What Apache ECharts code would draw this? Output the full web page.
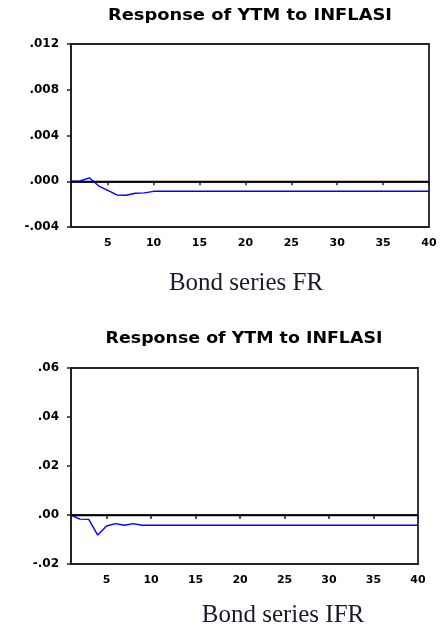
<!DOCTYPE html>
<html>
<head>
<meta charset="utf-8">
<script src="https://cdn.jsdelivr.net/npm/echarts@6/dist/echarts.min.js"></script>
<style>html,body{margin:0;padding:0;background:#fff}#c{width:440px;height:629px}</style>
</head>
<body>
<div id="c"></div>
<script>
const periods = [1,2,3,4,5,6,7,8,9,10,11,12,13,14,15,16,17,18,19,20,21,22,23,24,25,26,27,28,29,30,31,32,33,34,35,36,37,38,39,40];
const xTicks = [5,10,15,20,25,30,35,40];
const frValues = [0, 0.00002, 0.0003, -0.0004, -0.0008, -0.0012, -0.00122, -0.00105, -0.00102, -0.00088,
  -0.00088,-0.00088,-0.00088,-0.00088,-0.00088,-0.00088,-0.00088,-0.00088,-0.00088,-0.00088,
  -0.00088,-0.00088,-0.00088,-0.00088,-0.00088,-0.00088,-0.00088,-0.00088,-0.00088,-0.00088,
  -0.00088,-0.00088,-0.00088,-0.00088,-0.00088,-0.00088,-0.00088,-0.00088,-0.00088,-0.00088];
const ifrValues = [0, -0.0017, -0.0018, -0.0082, -0.0045, -0.0035, -0.0042, -0.0035, -0.0042, -0.0042,
  -0.0042,-0.0042,-0.0042,-0.0042,-0.0042,-0.0042,-0.0042,-0.0042,-0.0042,-0.0042,
  -0.0042,-0.0042,-0.0042,-0.0042,-0.0042,-0.0042,-0.0042,-0.0042,-0.0042,-0.0042,
  -0.0042,-0.0042,-0.0042,-0.0042,-0.0042,-0.0042,-0.0042,-0.0042,-0.0042,-0.0042];
const titleText = 'Response of YTM to INFLASI';
const subTitles = ['Bond series FR', 'Bond series IFR'];

const chart = echarts.init(document.getElementById('c'), null, {renderer: 'canvas'});
const fmt = d => v => v.toFixed(d).replace('0.', '.');
const xFont = {fontFamily: 'DejaVu Sans', fontWeight: 'bold', fontSize: 11, color: '#000'};
const yFont = {fontFamily: 'DejaVu Sans', fontWeight: 'bold', fontSize: 12, color: '#000'};
function xAxis(gi) {
  return {
    type: 'value', gridIndex: gi, min: 1, max: 40,
    axisLine: {lineStyle: {color: '#222', width: 1.8}},
    axisTick: {customValues: xTicks, length: 4, lineStyle: {color: '#222', width: 1.5}},
    axisLabel: Object.assign({customValues: xTicks, margin: 11}, xFont),
    splitLine: {show: false}
  };
}
function yAxis(gi, min, max, interval, d) {
  return {
    type: 'value', gridIndex: gi, min: min, max: max, interval: interval,
    axisLine: {show: true, lineStyle: {color: '#222', width: 1.8}},
    axisTick: {show: true, length: 4, lineStyle: {color: '#222', width: 1.5}},
    axisLabel: Object.assign({formatter: fmt(d), margin: 12}, yFont),
    splitLine: {show: false}
  };
}
function series(gi, vals) {
  return {
    type: 'line', xAxisIndex: gi, yAxisIndex: gi,
    data: periods.map((p, i) => [p, vals[i]]),
    showSymbol: false, symbol: 'none',
    lineStyle: {color: '#0000ff', width: 1.4},
    markLine: {silent: true, symbol: 'none', label: {show: false},
      lineStyle: {color: '#000', width: 1.3, type: 'solid'}, data: [{yAxis: 0}]},
    animation: false
  };
}
chart.setOption({
  animation: false,
  grid: [
    {left: 71, top: 44, width: 358, height: 183, show: true, borderColor: '#222', borderWidth: 1.8},
    {left: 71, top: 368, width: 347, height: 196, show: true, borderColor: '#222', borderWidth: 1.8}
  ],
  xAxis: [xAxis(0), xAxis(1)],
  yAxis: [yAxis(0, -0.004, 0.012, 0.004, 3), yAxis(1, -0.02, 0.06, 0.02, 2)],
  series: [series(0, frValues), series(1, ifrValues)],
  graphic: [
    {type: 'text', x: 250, y: 16, scaleX: 1.19, style: {text: titleText, align: 'center', verticalAlign: 'middle',
      font: 'bold 15px "DejaVu Sans"', fill: '#000'}},
    {type: 'text', x: 244, y: 339, scaleX: 1.16, style: {text: titleText, align: 'center', verticalAlign: 'middle',
      font: 'bold 15px "DejaVu Sans"', fill: '#000'}},
    {type: 'text', x: 246, y: 283, style: {text: subTitles[0], align: 'center', verticalAlign: 'middle',
      font: '25px "Liberation Serif"', fill: '#1a1a2a'}},
    {type: 'text', x: 283, y: 615, style: {text: subTitles[1], align: 'center', verticalAlign: 'middle',
      font: '25px "Liberation Serif"', fill: '#1a1a2a'}}
  ]
});
</script>
</body>
</html>
